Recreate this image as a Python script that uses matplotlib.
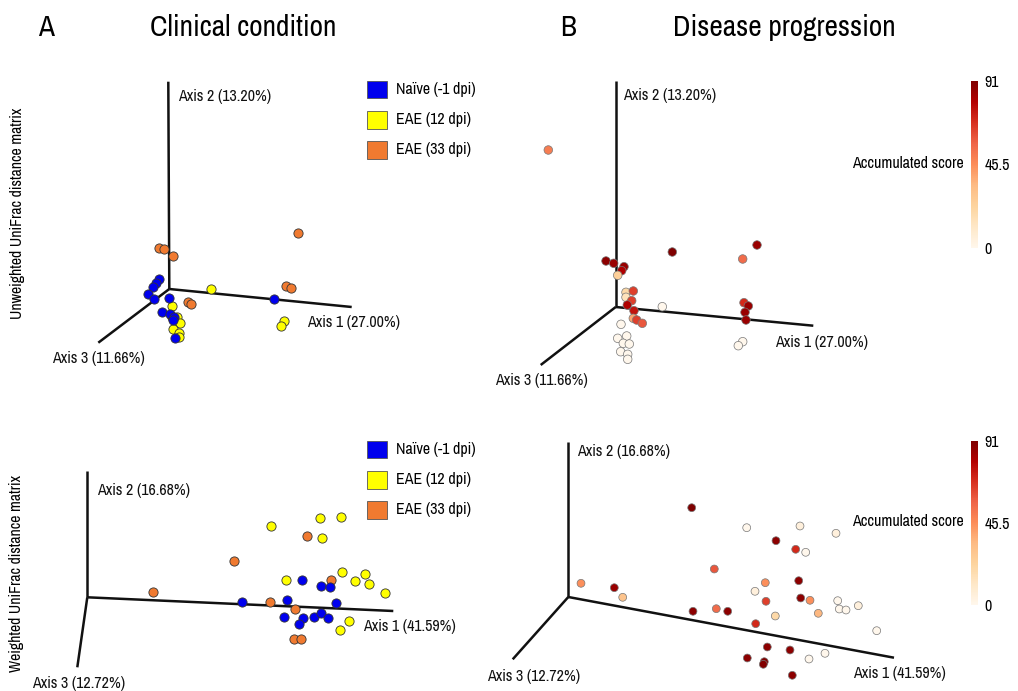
#!/usr/bin/env python
import numpy as np
import matplotlib
matplotlib.use('Agg')
import matplotlib.pyplot as plt
from matplotlib.patches import Rectangle
from matplotlib import font_manager

# pick a condensed sans face, like the one in the figure
installed = set(f.name for f in font_manager.fontManager.ttflist)
wanted = ['Liberation Sans Narrow', 'Arial Narrow', 'Archivo Narrow', 'Roboto Condensed',
          'PT Sans Narrow', 'Pragati Narrow', 'Fira Sans Condensed',
          'IBM Plex Sans Condensed', 'Encode Sans Condensed', 'Asap Condensed',
          'Barlow Semi Condensed', 'Open Sans Condensed', 'DejaVu Sans']
family = [f for f in wanted if f in installed][0]
plt.rcParams['font.family'] = [family, 'DejaVu Sans']

# group colours
C_NAIVE = '#0000ee'
C_EAE12 = '#ffff00'
C_EAE33 = '#f07a30'
legend_labels = ['Naïve (-1 dpi)', 'EAE (12 dpi)', 'EAE (33 dpi)']

# ---- panel A, unweighted (projected positions)
ua_orange_x = [159.3, 164, 172.7, 298.3, 286, 290.7, 187.7, 191]
ua_orange_y = [247.7, 249, 256.3, 233, 286.3, 288.3, 302.3, 304.3]
ua_yellow_x = [211.3, 172.3, 284, 281, 171.7, 176.7, 180, 172.7, 179, 179]
ua_yellow_y = [289.3, 305.7, 321, 325.7, 316.7, 316.7, 323, 329.3, 333.3, 336.7]
ua_blue_x = [159.3, 155.7, 153, 147.7, 154, 169.3, 162.3, 170, 174, 173.3, 175, 274]
ua_blue_y = [279.3, 282.7, 286.7, 294, 299.3, 298.3, 312.3, 314, 317.3, 320, 337.7, 298.7]

# ---- panel A, weighted
wa_yellow_x = [270.7, 320, 340.7, 322, 286, 342.3, 364.7, 355.3, 368.7, 385, 349.3, 340.3]
wa_yellow_y = [526, 518, 516.7, 538, 579.7, 571.7, 574, 580.7, 584, 593, 621, 629.7]
wa_orange_x = [307.3, 233.7, 153.3, 330.7, 270.3, 295, 294, 300.7]
wa_orange_y = [535.7, 561, 592, 580, 601.7, 608.7, 639, 638.7]
wa_blue_x = [302, 321.3, 330, 242.3, 287, 336, 284.3, 303.3, 313.7, 321.3, 327.7, 299.3]
wa_blue_y = [580.3, 586, 587.3, 601.7, 600.3, 602.7, 617.3, 618, 616.7, 613.3, 618.3, 624]

# ---- panel B, unweighted (accumulated score)
ub_x = [548.3, 672.3, 757, 742.7, 606, 613.7, 624, 621.7, 617.7, 626, 633.3, 626,
        631.7, 627.3, 634, 633.3, 636.7, 642.3, 662.3, 744, 748.3, 745, 746,
        742.7, 738.3, 621, 626.7, 617.7, 623.3, 629.3, 620.7, 627.7, 627.7]
ub_y = [150, 252, 245, 259, 261, 263.3, 266.7, 270.7, 275.3, 292.3, 291, 297.3,
        300.7, 305, 310.7, 318.3, 320, 323.3, 306.7, 302.7, 306, 312.3, 320,
        341.7, 345.7, 324.3, 336, 338.3, 343.3, 344, 351.7, 354.3, 359.3]
ub_score = [50, 91, 85, 55, 88, 85, 85, 80, 25, 20, 65, 15,
            65, 80, 75, 40, 65, 60, 0, 70, 85, 85, 85,
            0, 0, 0, 0, 0, 0, 0, 0, 0, 0]

# ---- panel B, weighted
wb_x = [691.7, 746.7, 800, 836, 776, 795.7, 805.7, 714.3, 765.3, 798.7, 755, 766,
        800.7, 810, 837.7, 839.3, 846, 858.3, 818.3, 775.3, 581, 614.3, 622.7,
        693, 716.3, 727.7, 755.7, 876.7, 767.3, 790, 825, 809, 747.3, 764.3,
        763.3, 792.3]
wb_y = [507.7, 527.7, 526, 533.3, 540.7, 549.3, 552.3, 569, 582.7, 580.7, 591.3,
        601.3, 598, 600.3, 600.7, 609, 610, 605.7, 613.3, 616, 583.3, 587.7,
        597.3, 611.3, 608.7, 611.3, 623.7, 630.7, 647, 650, 653.3, 659, 658,
        661.7, 664.3, 675.3]
wb_score = [91, 0, 5, 5, 88, 70, 0, 60, 45, 88, 5, 65,
            88, 45, 0, 0, 0, 5, 35, 20, 45, 85, 30,
            88, 55, 88, 70, 0, 88, 88, 0, 0, 88, 90,
            90, 88]

# axes frames: origin, axis1 end, axis2 end, axis3 end
frames = {
    'ua': [(169.3, 289), (351.7, 307), (168.3, 81.7), (98.3, 342.7)],
    'ub': [(615.7, 307), (813.3, 325.7), (615.7, 80.7), (540.7, 365)],
    'wa': [(87.3, 597.3), (393.3, 611), (87.3, 470.7), (77.3, 667.3)],
    'wb': [(568.3, 597), (894, 657.7), (568.3, 441.7), (512.7, 659.3)],
}
axis_labels = {
    'ua': [('Axis 1 (27.00%)', 306.7, 322), ('Axis 2 (13.20%)', 177.7, 96.7),
           ('Axis 3 (11.66%)', 51.7, 358)],
    'ub': [('Axis 1 (27.00%)', 775, 342.7), ('Axis 2 (13.20%)', 623.3, 95),
           ('Axis 3 (11.66%)', 495, 380)],
    'wa': [('Axis 1 (41.59%)', 363.3, 626.7), ('Axis 2 (16.68%)', 97.3, 490),
           ('Axis 3 (12.72%)', 31.7, 683.5)],
    'wb': [('Axis 1 (41.59%)', 853.3, 673.3), ('Axis 2 (16.68%)', 577.3, 451.7),
           ('Axis 3 (12.72%)', 487, 676.7)],
}

fig = plt.figure(figsize=(10.18, 6.91), dpi=100)
ax = fig.add_axes([0, 0, 1, 1])
ax.set_xlim(0, 1018)
ax.set_ylim(691, 0)
ax.axis('off')

for key, pts in frames.items():
    o = pts[0]
    for end in pts[1:]:
        ax.plot([o[0], end[0]], [o[1], end[1]], color='#111111', lw=1.8,
                solid_capstyle='butt', zorder=1)
    for txt, x, y in axis_labels[key]:
        ax.text(x, y, txt, fontsize=11.5, ha='left', va='center', color='#111111')

# titles
ax.text(38, 27, 'A', fontsize=21, ha='left', va='center')
ax.text(150, 27, 'Clinical condition', fontsize=21.2, ha='left', va='center')
ax.text(560, 27, 'B', fontsize=21, ha='left', va='center')
ax.text(673, 27, 'Disease progression', fontsize=21.2, ha='left', va='center')

ax.text(18, 213, 'Unweighted UniFrac distance matrix', fontsize=11.4,
        rotation=90, ha='center', va='center')
ax.text(16.7, 573, 'Weighted UniFrac distance matrix', fontsize=11.3,
        rotation=90, ha='center', va='center')

# group scatter
ms = 44
for xs, ys, c in [(ua_orange_x, ua_orange_y, C_EAE33), (ua_yellow_x, ua_yellow_y, C_EAE12),
                  (ua_blue_x, ua_blue_y, C_NAIVE),
                  (wa_yellow_x, wa_yellow_y, C_EAE12), (wa_orange_x, wa_orange_y, C_EAE33),
                  (wa_blue_x, wa_blue_y, C_NAIVE)]:
    ax.scatter(xs, ys, s=ms, c=c, edgecolors='#333333', linewidths=0.6, zorder=3)

# legends
for top in (80.7, 440.7):
    for i, (lab, c) in enumerate(zip(legend_labels, [C_NAIVE, C_EAE12, C_EAE33])):
        y0 = top + i * 30.2
        ax.add_patch(Rectangle((366.7, y0), 20.6, 17.6, facecolor=c,
                               edgecolor='#555555', lw=0.6, zorder=3))
        ax.text(396, y0 + 8.8, lab, fontsize=11.5, ha='left', va='center')

# score scatter
cmap = plt.get_cmap('OrRd')
sc = ax.scatter(ub_x, ub_y, s=38, c=ub_score, cmap=cmap, vmin=0, vmax=91,
                edgecolors='#777777', linewidths=0.5, zorder=3)
ax.scatter(wb_x, wb_y, s=32, c=wb_score, cmap=cmap, vmin=0, vmax=91,
           edgecolors='#777777', linewidths=0.5, zorder=3)

# colour bars
for top, bottom in [(80.7, 248.3), (440.7, 605)]:
    cax = fig.add_axes([971 / 1018, 1 - bottom / 691, 6.7 / 1018, (bottom - top) / 691])
    cb = fig.colorbar(sc, cax=cax, ticks=[0, 45.5, 91])
    cb.outline.set_visible(False)
    cb.ax.set_yticklabels(['0', '45.5', '91'])
    cb.ax.tick_params(length=0, labelsize=11.5, pad=5)
    ax.text(963.3, (top + bottom) / 2 - 1, 'Accumulated score', fontsize=11.5,
            ha='right', va='center')

fig.savefig('out.png', dpi=100)
